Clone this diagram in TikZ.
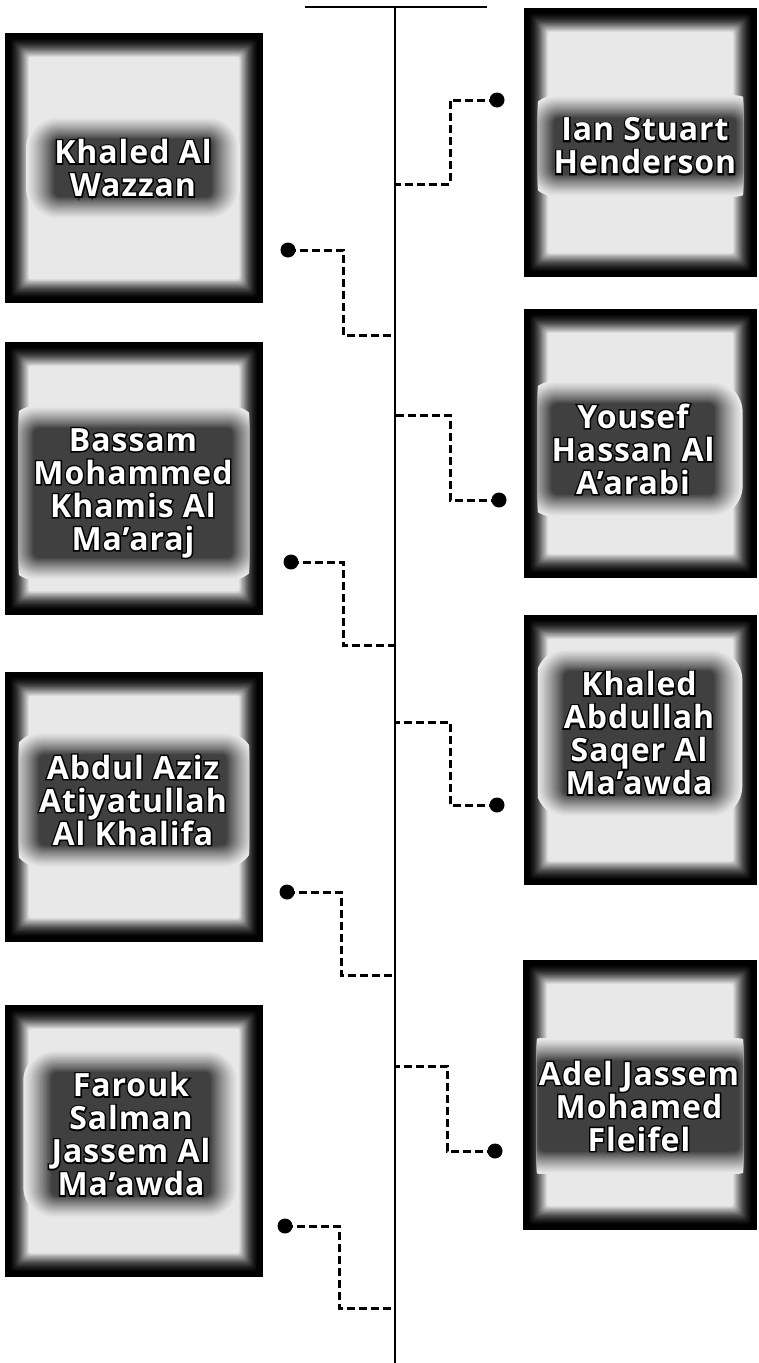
\documentclass[tikz,border=0pt]{standalone}
\usepackage{fontspec}
\setmainfont{Open Sans}
\newfontfamily\namefont[LetterSpace=3]{Open Sans}
\newfontfamily\outfont[LetterSpace=3, FakeBold=9]{Open Sans}
\usetikzlibrary{calc}
\definecolor{boxbg}{HTML}{E8E8E8}
\definecolor{halocol}{HTML}{404040}
\pgfdeclarelayer{back}
\pgfdeclarelayer{mid}
\pgfsetlayers{back,mid,main}
\tikzset{
  photo/.style={rectangle, inner sep=0pt, draw=none},
  persontext/.style={text=white, font=\namefont\fontsize{32}{33}\selectfont\bfseries, align=center, inner sep=0pt},
  conn/.style={line width=3pt, dash pattern=on 8pt off 4pt},
  spine/.style={line width=2.2pt},
  joint/.style={circle, fill=black, minimum size=15pt, inner sep=0pt},
}
\newcommand\ot[1]{\rlap{\color{black}\outfont\bfseries #1}#1}
\newcommand\vign[1]{%
  \fill[black] (#1.north west) rectangle (#1.south east);
  \foreach \i [evaluate=\i as \p using {int(100*(1-(\i/18)^1.6))}, evaluate=\i as \d using {4+\i*1.1}] in {0,...,18}{
    \fill[black!\p!boxbg, rounded corners=3pt] ($(#1.north west)+(\d,\d)$) rectangle ($(#1.south east)-(\d,\d)$);}%
}
\newcommand\halo[1]{%
  \foreach \i [evaluate=\i as \p using {int(100*(\i/20)^1.2)}, evaluate=\i as \d using {28*(1-\i/20)}, evaluate=\i as \r using {6+\d*0.9}] in {0,...,20}{
    \fill[halocol!\p!boxbg, rounded corners=\r pt] ($(#1.north west)+(-\d,-\d*0.8)$) rectangle ($(#1.south east)+(\d,\d*0.8)$);}%
}
\newcommand\person[8]{%
  \node[photo, minimum width=#4pt, minimum height=#5pt] (#1) at (#2,#3) {};
  \begin{pgfonlayer}{back}\vign{#1}\end{pgfonlayer}
  \node[persontext] (#1t) at (#6,#7) {#8};
  \begin{pgfonlayer}{mid}
    \begin{scope}
      \clip ($(#1.north west)+(14,14)$) rectangle ($(#1.south east)-(14,14)$);
      \halo{#1t}
    \end{scope}
  \end{pgfonlayer}
}
\begin{document}
\begin{tikzpicture}[x=1pt,y=-1pt]
\useasboundingbox (0,0) rectangle (759,1363);
% spine
\coordinate (barL) at (305,7);
\coordinate (barR) at (487,7);
\coordinate (top) at (395,7);
\coordinate (bottom) at (395,1363);
\draw[spine] (barL) -- (barR);
\draw[spine] (top) -- (bottom);

% left boxes
\person{L1}{134}{168}{258}{270}{133}{168}{\ot{Khaled Al}\\\ot{Wazzan}}
\person{L2}{134}{478.5}{258}{273}{133}{493}{\ot{Bassam}\\\ot{Mohammed}\\\ot{Khamis Al}\\\ot{Ma’araj}}
\person{L3}{134}{807}{258}{270}{133}{800}{\ot{Abdul Aziz}\\\ot{Atiyatullah}\\\ot{Al Khalifa}}
\person{L4}{134}{1141}{258}{272}{131}{1134}{\ot{Farouk}\\\ot{Salman}\\\ot{Jassem Al}\\\ot{Ma’awda}}
% right boxes
\person{R1}{640.5}{142.5}{233}{269}{645}{146}{\ot{Ian Stuart}\\\ot{Henderson}}
\person{R2}{640.5}{443.5}{233}{269}{633}{449}{\ot{Yousef}\\\ot{Hassan Al}\\\ot{A’arabi}}
\person{R3}{640.5}{750}{233}{270}{639}{733}{\ot{Khaled}\\\ot{Abdullah}\\\ot{Saqer Al}\\\ot{Ma’awda}}
\person{R4}{640}{1095}{234}{270}{639}{1106}{\ot{Adel Jassem}\\\ot{Mohamed}\\\ot{Fleifel}}

% connectors left
\node[joint] (dL1) at (288,250) {};
\coordinate (bL1) at (343,335); \coordinate (jL1) at (395,335);
\draw[conn] (dL1.center) -| (bL1) -- (jL1);
\node[joint] (dL2) at (291,562) {};
\coordinate (bL2) at (343,645); \coordinate (jL2) at (395,645);
\draw[conn] (dL2.center) -| (bL2) -- (jL2);
\node[joint] (dL3) at (287,892) {};
\coordinate (bL3) at (341,975); \coordinate (jL3) at (395,975);
\draw[conn] (dL3.center) -| (bL3) -- (jL3);
\node[joint] (dL4) at (285,1226) {};
\coordinate (bL4) at (339,1308); \coordinate (jL4) at (395,1308);
\draw[conn] (dL4.center) -| (bL4) -- (jL4);
% connectors right
\node[joint] (dR1) at (497,100) {};
\coordinate (bR1) at (450,184); \coordinate (jR1) at (395,184);
\draw[conn] (dR1.center) -| (bR1) -- (jR1);
\node[joint] (dR2) at (499,500) {};
\coordinate (bR2) at (450,415); \coordinate (jR2) at (395,415);
\draw[conn] (dR2.center) -| (bR2) -- (jR2);
\node[joint] (dR3) at (497,805) {};
\coordinate (bR3) at (450,722); \coordinate (jR3) at (395,722);
\draw[conn] (dR3.center) -| (bR3) -- (jR3);
\node[joint] (dR4) at (495,1151) {};
\coordinate (bR4) at (447,1066); \coordinate (jR4) at (395,1066);
\draw[conn] (dR4.center) -| (bR4) -- (jR4);
\end{tikzpicture}
\end{document}
